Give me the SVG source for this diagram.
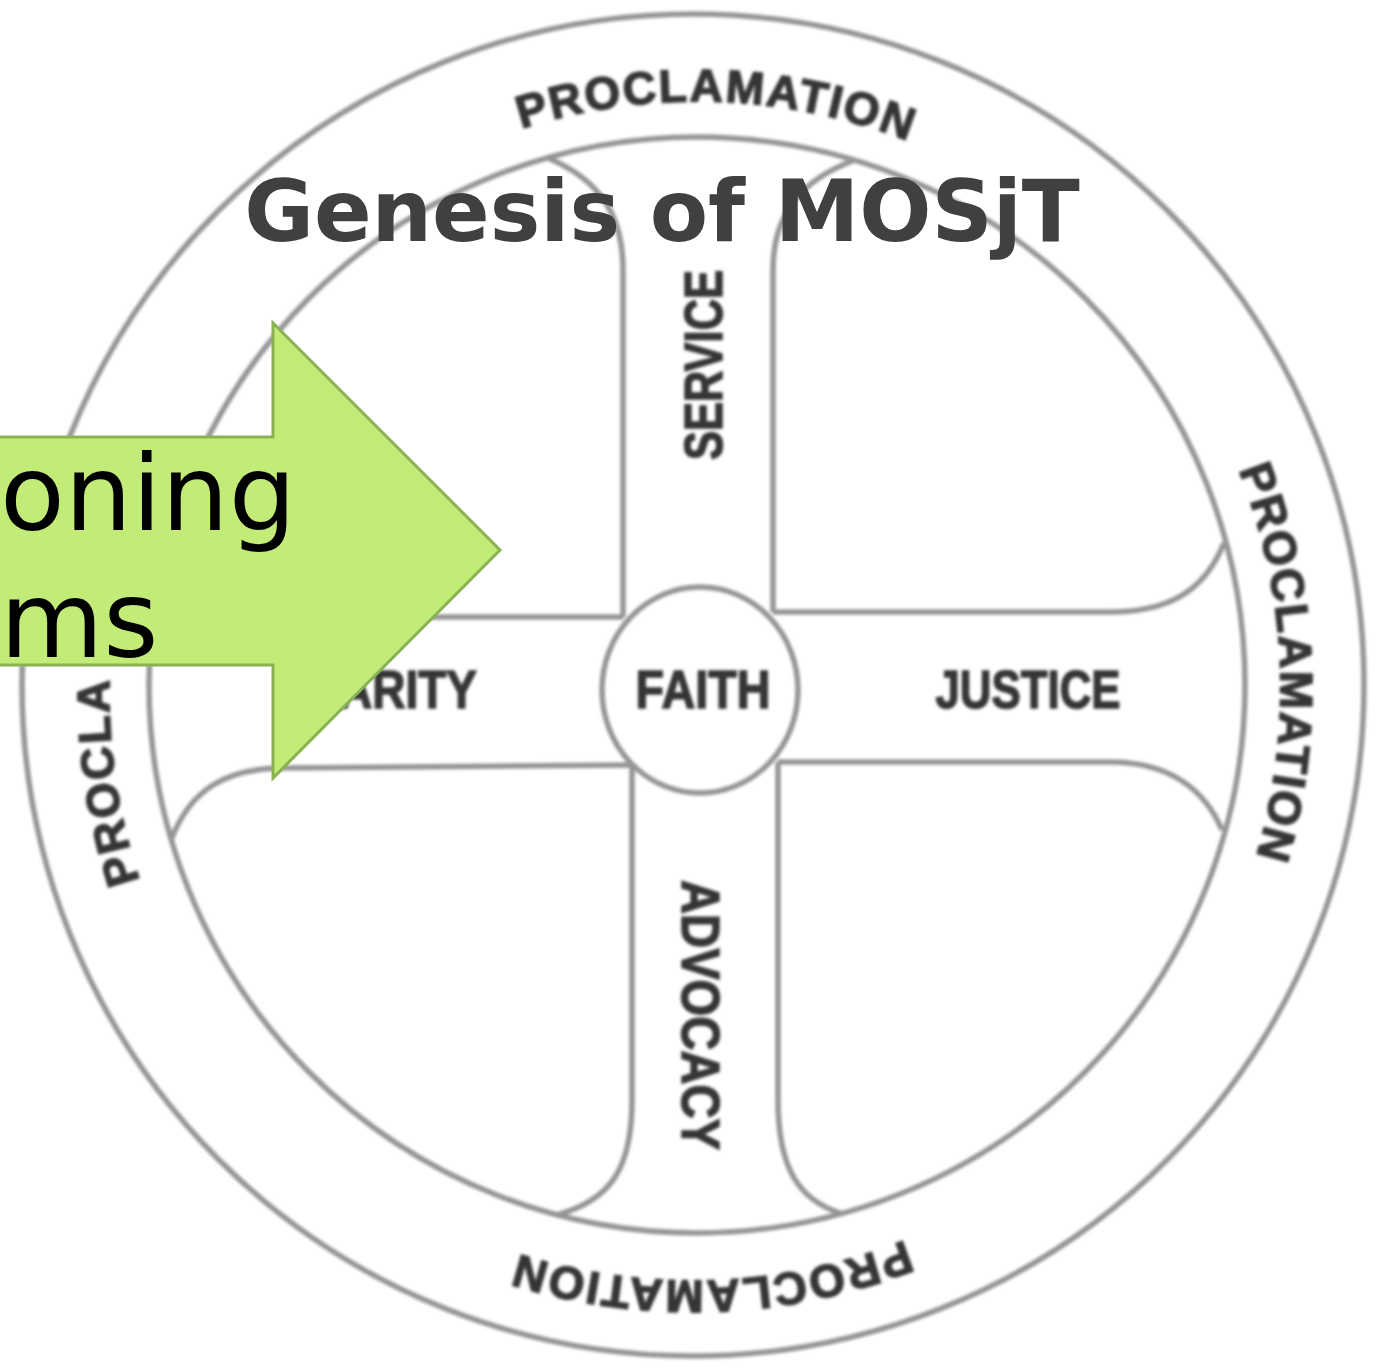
<svg xmlns="http://www.w3.org/2000/svg" width="1381" height="1368" viewBox="0 0 1381 1368">
  <style>
    .ln { fill: none; stroke: #959595; stroke-width: 5.5; }
    .lbl { font-family: "Liberation Sans", Arial, sans-serif; font-weight: bold; fill: #353535; stroke: #353535; stroke-width: 1.5; font-size: 54px; }
    .rim { font-family: "Liberation Sans", Arial, sans-serif; font-weight: bold; fill: #353535; stroke: #353535; stroke-width: 1.5; font-size: 46px; letter-spacing: 2px; }
    .title { font-family: "DejaVu Sans", Verdana, sans-serif; font-weight: bold; fill: #404040; font-size: 85px; }
    .arrtxt { font-family: "DejaVu Sans", Verdana, sans-serif; fill: #000000; font-size: 106px; }
  </style>
  <defs>
    <filter id="soft" x="-5%" y="-5%" width="110%" height="110%">
      <feGaussianBlur stdDeviation="1.6"/>
    </filter>
    <path id="rimPath" d="M 282.8 275.9 A 583 587 0 1 1 1107.2 1106.1 A 583 587 0 1 1 282.8 275.9 Z"/>
  </defs>
  <rect width="1381" height="1368" fill="#ffffff"/>

  <g id="wheel" filter="url(#soft)">
    <g id="rim-circles">
      <circle class="ln" cx="693" cy="685" r="671"/>
      <circle class="ln" cx="697" cy="685" r="548"/>
    </g>
    <g id="connectors">
      <path class="ln" d="M 623 617 L 623 270 C 623 215 600 180 548 158"/>
      <path class="ln" d="M 773 612 L 773 270 C 773 215 800 180 855 160"/>
      <path class="ln" d="M 632 765 L 632 1100 C 632 1170 610 1200 557 1215"/>
      <path class="ln" d="M 778 762 L 778 1100 C 778 1170 800 1200 840 1213"/>
      <path class="ln" d="M 773 612 L 1110 612 C 1170 612 1205 590 1224 543"/>
      <path class="ln" d="M 778 762 L 1110 762 C 1170 762 1205 790 1222 830"/>
      <path class="ln" d="M 623 617 L 285 617 C 225 617 190 595 167 545"/>
      <path class="ln" d="M 632 765 L 285 768 C 225 768 190 790 171 840"/>
    </g>
    <g id="node-faith">
      <ellipse class="ln" cx="700" cy="690" rx="98" ry="103" fill="#ffffff"/>
      <text class="lbl" x="703" y="708" text-anchor="middle" textLength="135" lengthAdjust="spacingAndGlyphs">FAITH</text>
    </g>
    <g id="node-justice">
      <text class="lbl" x="1028" y="708" text-anchor="middle" textLength="185" lengthAdjust="spacingAndGlyphs">JUSTICE</text>
    </g>
    <g id="node-charity">
      <text class="lbl" x="408" y="708" text-anchor="middle" textLength="138" lengthAdjust="spacingAndGlyphs">ARITY</text>
    </g>
    <g id="node-service">
      <text class="lbl" transform="translate(722,365) rotate(-90)" x="0" y="0" text-anchor="middle" textLength="190" lengthAdjust="spacingAndGlyphs">SERVICE</text>
    </g>
    <g id="node-advocacy">
      <text class="lbl" transform="translate(682,1015) rotate(90)" x="0" y="0" text-anchor="middle" textLength="270" lengthAdjust="spacingAndGlyphs">ADVOCACY</text>
    </g>
    <g id="node-proclamation">
      <text class="rim"><textPath href="#rimPath" startOffset="481" text-anchor="middle">PROCLAMATION</textPath></text>
      <text class="rim"><textPath href="#rimPath" startOffset="1355" text-anchor="middle">PROCLAMATION</textPath></text>
      <text class="rim"><textPath href="#rimPath" startOffset="2287" text-anchor="middle">PROCLAMATION</textPath></text>
      <text class="rim"><textPath href="#rimPath" startOffset="3035" text-anchor="start">PROCLA</textPath></text>
    </g>
  </g>

  <g id="node-title">
    <text class="title" x="662" y="241" text-anchor="middle">Genesis of MOSjT</text>
  </g>

  <g id="node-arrow">
    <polygon points="-5,437 273,437 273,323 500,550 273,778 273,665 -5,665" fill="#c2eb78" stroke="#8ab152" stroke-width="3"/>
    <text class="arrtxt" x="0" y="530">oning</text>
    <text class="arrtxt" x="0" y="657">ms</text>
  </g>
</svg>
